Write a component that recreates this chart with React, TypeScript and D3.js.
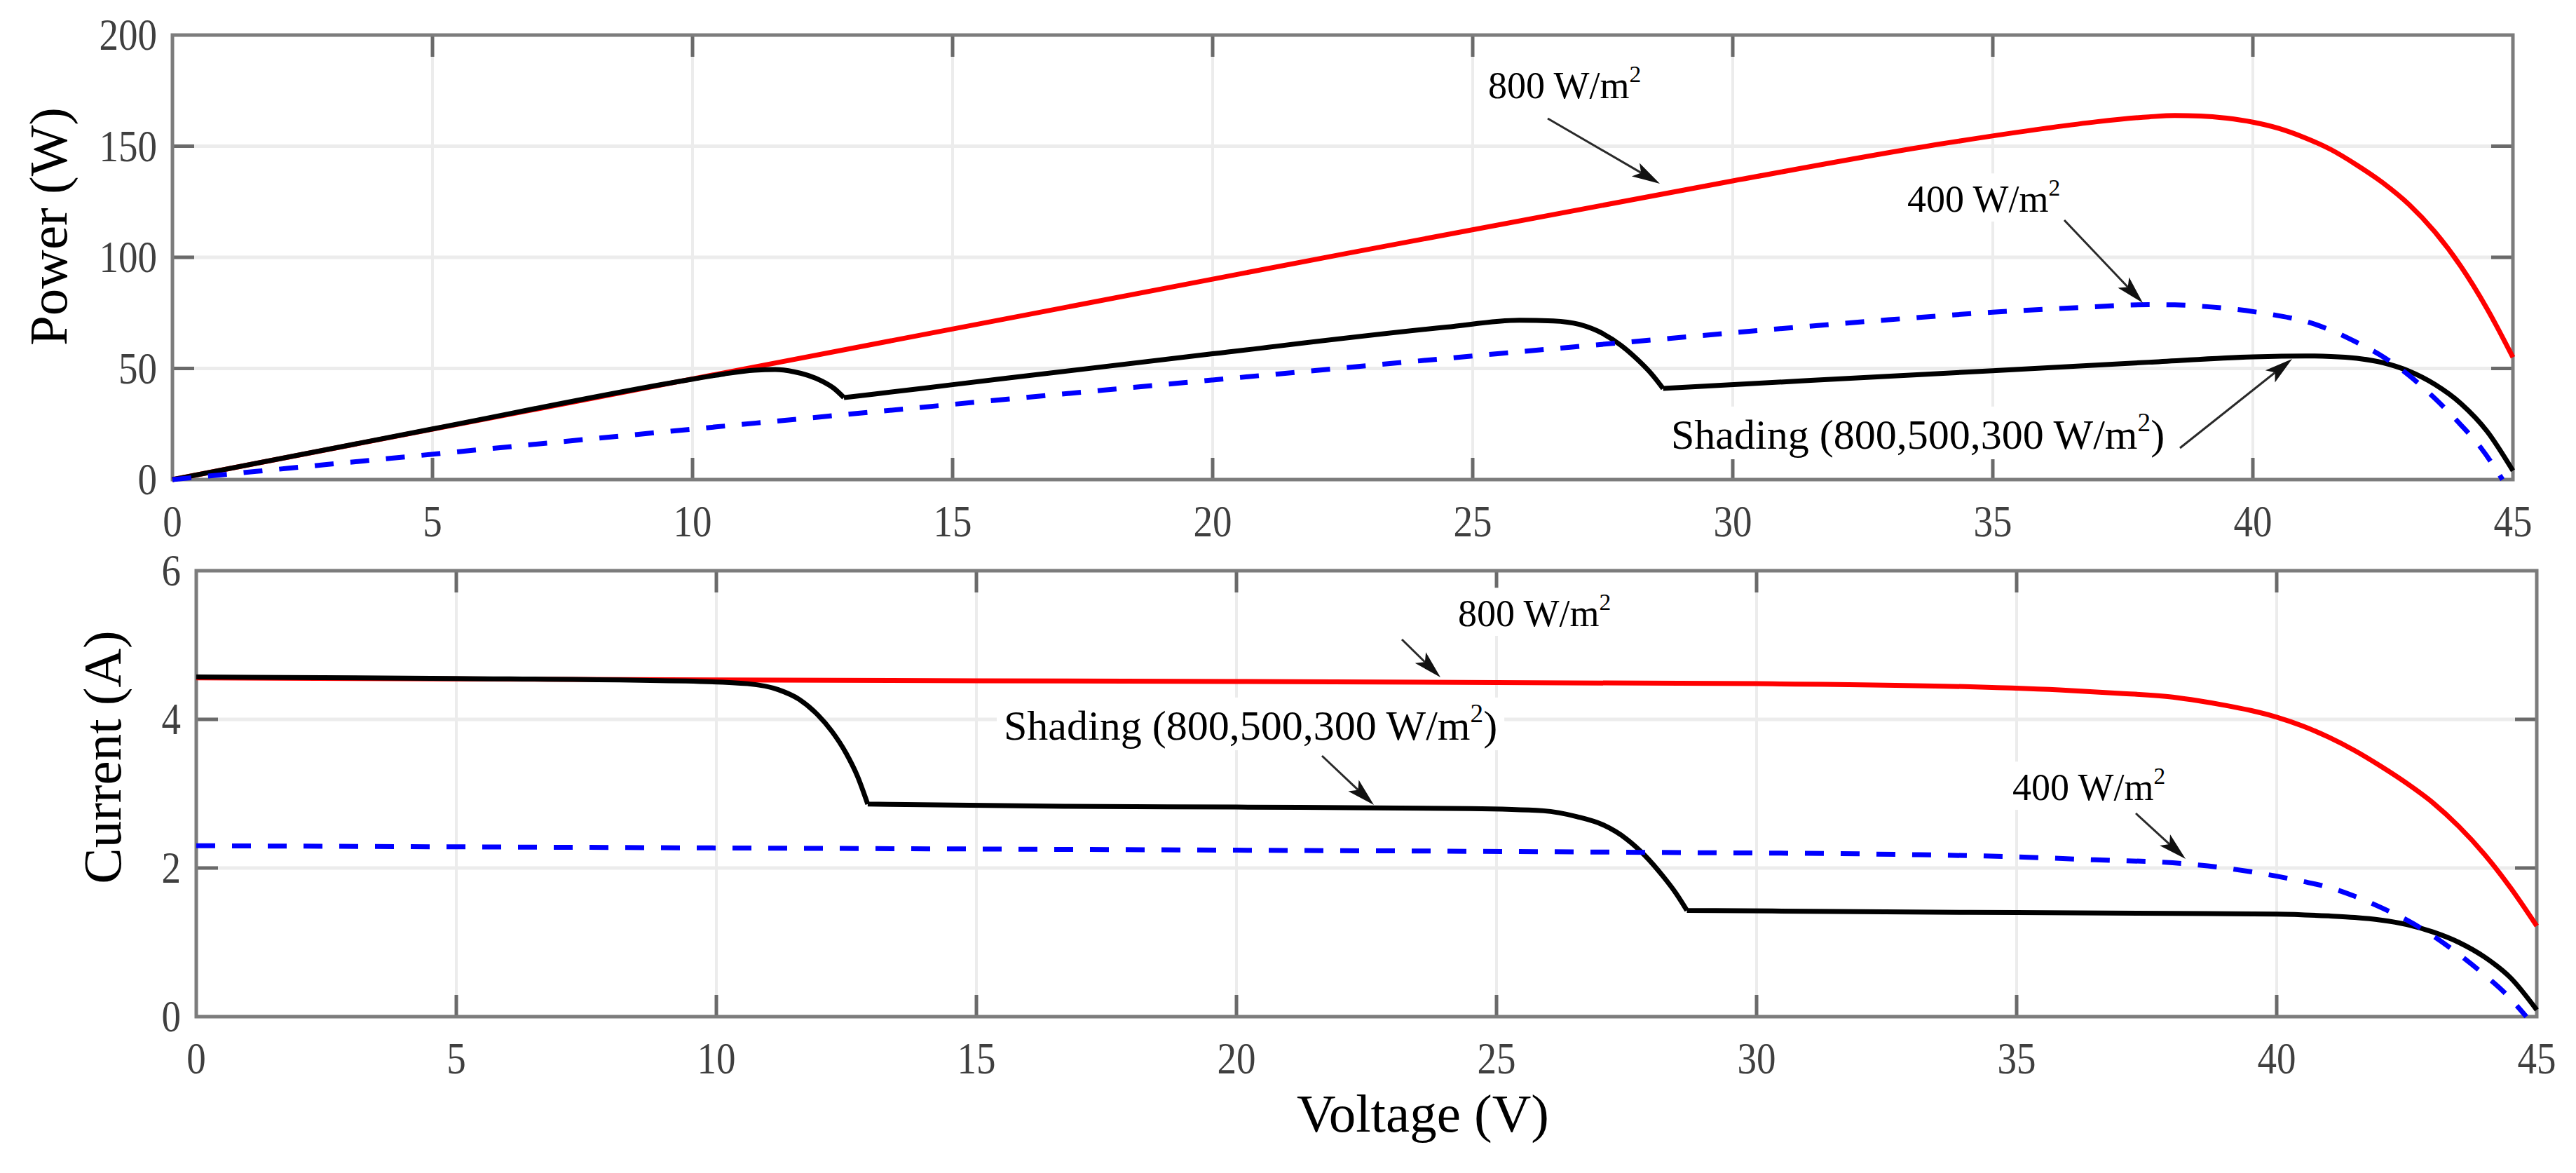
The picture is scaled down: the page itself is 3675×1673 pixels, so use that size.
import React, { useEffect, useRef } from "react";
import * as d3 from "d3";

const WIDTH = 3675;
const HEIGHT = 1673;

// Axis ticks
const voltageTicks = [0, 5, 10, 15, 20, 25, 30, 35, 40, 45];
const powerTicks = [0, 50, 100, 150, 200];
const currentTicks = [0, 2, 4, 6];

// P–V curve, uniform 800 W/m²
const pv800Voltage = [0, 10, 20, 30, 34, 36, 37, 38, 38.5, 39, 39.5, 40, 40.5, 41, 41.5, 42, 42.5, 43, 43.5, 44, 44.5, 45];
const pv800Power = [0, 45.3, 90.2, 134.4, 151, 158, 161, 163.2, 163.8, 163.6, 162.6, 160.8, 158, 153.8, 148.5, 141.5, 133.5, 123.8, 111.4, 95.9, 77, 55];

// P–V curve, uniform 400 W/m²
const pv400Voltage = [0, 10, 20, 28, 33, 35, 36.5, 38, 38.5, 39, 39.5, 40, 40.5, 41, 41.5, 42, 42.5, 43, 43.5, 44, 44.4, 44.8];
const pv400Power = [0, 22.7, 44.8, 61.9, 71.9, 75.3, 77.2, 78.7, 78.6, 78, 77, 75.6, 73.7, 71.3, 67.2, 61.7, 55.3, 46.9, 36.5, 24.6, 13.8, 0];

// P–V curve, partial shading (800, 500, 300 W/m²)
const pvShadeVoltage = [0, 5, 10, 10.6, 11.19, 11.59, 11.95, 12.22, 12.49, 12.71, 12.91, 13.5, 15, 20, 24.5, 25.9, 26.55, 27.05, 27.5, 27.85, 28.2, 28.44, 28.66, 31.5, 35, 38, 40, 41, 41.5, 42, 42.5, 43, 43.5, 44, 44.5, 45];
const pvShadePower = [0, 22.8, 45.2, 47.5, 49.2, 49.5, 48.5, 46.9, 44.3, 41.2, 36.9, 38.5, 42.7, 56.6, 68.6, 71.7, 71.4, 69.8, 65.7, 60.4, 53.3, 47.5, 41.0, 44.6, 49.0, 52.8, 55.2, 55.6, 55.4, 54.6, 52.6, 48.8, 42.8, 34.2, 21.8, 4.0];

// I–V curve, uniform 800 W/m²
const iv800Voltage = [0, 10, 20, 30, 34, 36, 37, 38, 38.5, 39, 39.5, 40, 40.5, 41, 41.5, 42, 42.5, 43, 43.5, 44, 44.5, 45];
const iv800Current = [4.56, 4.53, 4.51, 4.48, 4.44, 4.39, 4.35, 4.3, 4.25, 4.19, 4.12, 4.03, 3.91, 3.76, 3.58, 3.37, 3.14, 2.88, 2.56, 2.18, 1.73, 1.22];

// I–V curve, uniform 400 W/m²
const iv400Voltage = [0, 10, 20, 28, 33, 35, 36.5, 38, 38.5, 39, 39.5, 40, 40.5, 41, 41.5, 42, 42.5, 43, 43.5, 44, 44.4, 44.8];
const iv400Current = [2.3, 2.27, 2.24, 2.21, 2.18, 2.15, 2.11, 2.07, 2.04, 2.0, 1.95, 1.89, 1.82, 1.74, 1.62, 1.47, 1.3, 1.09, 0.84, 0.56, 0.31, 0];

// I–V curve, partial shading (800, 500, 300 W/m²)
const ivShadeVoltage = [0, 5, 9.7, 10.6, 11.19, 11.59, 11.95, 12.22, 12.49, 12.71, 12.91, 16.7, 20, 24.5, 25.9, 26.55, 27.05, 27.5, 27.85, 28.2, 28.44, 28.66, 31.5, 35, 38, 40, 41, 41.5, 42, 42.5, 43, 43.5, 44, 44.5, 45];
const ivShadeCurrent = [4.57, 4.55, 4.51, 4.48, 4.4, 4.27, 4.06, 3.84, 3.55, 3.24, 2.86, 2.83, 2.82, 2.8, 2.77, 2.69, 2.58, 2.39, 2.17, 1.89, 1.67, 1.43, 1.415, 1.4, 1.39, 1.38, 1.355, 1.335, 1.3, 1.24, 1.14, 1.0, 0.8, 0.52, 0.09];

// Bypass-diode switching points where the shaded curve has a corner
const shadeCorners = [12.91, 28.66];

type Pt = [number, number];

const SERIF = "'Liberation Serif', 'Times New Roman', serif";

function zip(vs: number[], ys: number[]): Pt[] {
  return vs.map((v, i) => [v, ys[i]] as Pt);
}

function splitAtCorners(pts: Pt[], corners: number[]): Pt[][] {
  const out: Pt[][] = [];
  let cur: Pt[] = [];
  pts.forEach((p) => {
    cur.push(p);
    if (corners.includes(p[0])) {
      out.push(cur);
      cur = [p];
    }
  });
  if (cur.length > 1) out.push(cur);
  return out;
}

type Series = { pts: Pt[]; color: string; dash?: string; corners?: number[]; width: number };

type LabelPart = { t: string; sup?: boolean };

function drawPanel(
  svg: d3.Selection<SVGSVGElement, unknown, null, undefined>,
  x: d3.ScaleLinear<number, number>,
  y: d3.ScaleLinear<number, number>,
  yTicks: number[],
  series: Series[]
) {
  const g = svg.append("g");
  const [x0, x1] = x.range();
  const [y0, y1] = y.range(); // y0 bottom, y1 top
  const tickLen = 31;

  // grid
  g.selectAll("line.vg")
    .data(voltageTicks.slice(1, -1))
    .join("line")
    .attr("x1", (d) => x(d))
    .attr("x2", (d) => x(d))
    .attr("y1", y1)
    .attr("y2", y0)
    .attr("stroke", "#ececec")
    .attr("stroke-width", 4);
  g.selectAll("line.hg")
    .data(yTicks.slice(1, -1))
    .join("line")
    .attr("x1", x0)
    .attr("x2", x1)
    .attr("y1", (d) => y(d))
    .attr("y2", (d) => y(d))
    .attr("stroke", "#ececec")
    .attr("stroke-width", 5);

  // inward ticks on all four sides
  const tickColor = "#6a6a6a";
  voltageTicks.slice(1, -1).forEach((v) => {
    g.append("line").attr("x1", x(v)).attr("x2", x(v)).attr("y1", y0).attr("y2", y0 - tickLen)
      .attr("stroke", tickColor).attr("stroke-width", 5);
    g.append("line").attr("x1", x(v)).attr("x2", x(v)).attr("y1", y1).attr("y2", y1 + tickLen)
      .attr("stroke", tickColor).attr("stroke-width", 5);
  });
  yTicks.slice(1, -1).forEach((v) => {
    g.append("line").attr("x1", x0).attr("x2", x0 + tickLen).attr("y1", y(v)).attr("y2", y(v))
      .attr("stroke", tickColor).attr("stroke-width", 5);
    g.append("line").attr("x1", x1).attr("x2", x1 - tickLen).attr("y1", y(v)).attr("y2", y(v))
      .attr("stroke", tickColor).attr("stroke-width", 5);
  });

  // frame
  g.append("rect")
    .attr("x", x0)
    .attr("y", y1)
    .attr("width", x1 - x0)
    .attr("height", y0 - y1)
    .attr("fill", "none")
    .attr("stroke", "#7c7c7c")
    .attr("stroke-width", 5);

  // tick labels
  const lbl = g.append("g").attr("font-family", SERIF).attr("font-size", 64).attr("fill", "#3f3f3f");
  voltageTicks.forEach((v) => {
    lbl.append("text")
      .attr("transform", `translate(${x(v)},${y0 + 81}) scale(0.86,1)`)
      .attr("text-anchor", "middle")
      .text(String(v));
  });
  yTicks.forEach((v) => {
    lbl.append("text")
      .attr("transform", `translate(${x0 - 22},${y(v) + 21}) scale(0.86,1)`)
      .attr("text-anchor", "end")
      .text(String(v));
  });

  // curves
  const line = d3
    .line<Pt>()
    .x((d) => x(d[0]))
    .y((d) => y(d[1]))
    .curve(d3.curveMonotoneX);
  series.forEach((s) => {
    const pieces = splitAtCorners(s.pts, s.corners ?? []);
    g.append("path")
      .attr("d", pieces.map((p) => line(p)).join(""))
      .attr("fill", "none")
      .attr("stroke", s.color)
      .attr("stroke-width", s.width)
      .attr("stroke-linejoin", "round")
      .attr("stroke-dasharray", s.dash ?? null);
  });
  return g;
}

function annotate(
  svg: d3.Selection<SVGSVGElement, unknown, null, undefined>,
  tx: number,
  ty: number,
  size: number,
  parts: LabelPart[],
  tail: Pt,
  head: Pt
) {
  const g = svg.append("g");
  const box = g.append("rect").attr("fill", "#ffffff");
  const text = g.append("text")
    .attr("x", tx)
    .attr("y", ty)
    .attr("font-family", SERIF)
    .attr("font-size", size)
    .attr("fill", "#000");
  let raised = false;
  parts.forEach((p) => {
    const sp = text.append("tspan").text(p.t);
    if (p.sup) {
      sp.attr("font-size", size * 0.62).attr("dy", -size * 0.42);
      raised = true;
    } else if (raised) {
      sp.attr("dy", size * 0.42);
      raised = false;
    }
  });
  const bb = (text.node() as SVGTextElement).getBBox();
  box.attr("x", bb.x - 10).attr("y", bb.y - 2).attr("width", bb.width + 20).attr("height", bb.height + 4);

  // arrow
  const [x1, y1] = tail;
  const [x2, y2] = head;
  const ang = Math.atan2(y2 - y1, x2 - x1);
  const ux = Math.cos(ang);
  const uy = Math.sin(ang);
  const px = -uy;
  const py = ux;
  const L = 40;
  const hw = 11;
  const notch = 9;
  const bx = x2 - ux * L;
  const by = y2 - uy * L;
  const nx = x2 - ux * (L - notch);
  const ny = y2 - uy * (L - notch);
  g.append("line")
    .attr("x1", x1)
    .attr("y1", y1)
    .attr("x2", nx)
    .attr("y2", ny)
    .attr("stroke", "#2a2a2a")
    .attr("stroke-width", 3);
  g.append("polygon")
    .attr("points", [
      [x2, y2],
      [bx + px * hw, by + py * hw],
      [nx, ny],
      [bx - px * hw, by - py * hw],
    ].map((q) => q.join(",")).join(" "))
    .attr("fill", "#111");
}

export default function App() {
  const ref = useRef<SVGSVGElement | null>(null);

  useEffect(() => {
    if (!ref.current) return;
    const svg = d3.select(ref.current);
    svg.selectAll("*").remove();
    svg.append("rect").attr("width", WIDTH).attr("height", HEIGHT).attr("fill", "#fff");

    // Power vs voltage
    const xP = d3.scaleLinear().domain([0, 45]).range([246, 3585]);
    const yP = d3.scaleLinear().domain([0, 200]).range([684, 50]);
    drawPanel(svg, xP, yP, powerTicks, [
      { pts: zip(pv800Voltage, pv800Power), color: "#ff0000", width: 7 },
      { pts: zip(pvShadeVoltage, pvShadePower), color: "#000000", width: 7, corners: shadeCorners },
      { pts: zip(pv400Voltage, pv400Power), color: "#0000ff", width: 7, dash: "27 24" },
    ]);

    // Current vs voltage
    const xI = d3.scaleLinear().domain([0, 45]).range([280, 3619]);
    const yI = d3.scaleLinear().domain([0, 6]).range([1450, 814]);
    drawPanel(svg, xI, yI, currentTicks, [
      { pts: zip(iv800Voltage, iv800Current), color: "#ff0000", width: 7 },
      { pts: zip(ivShadeVoltage, ivShadeCurrent), color: "#000000", width: 7, corners: shadeCorners },
      { pts: zip(iv400Voltage, iv400Current), color: "#0000ff", width: 7, dash: "27 24" },
    ]);

    // axis titles
    const titles = svg.append("g").attr("font-family", SERIF).attr("font-size", 77).attr("fill", "#000")
      .attr("text-anchor", "middle");
    titles.append("text").attr("transform", "translate(95,323) rotate(-90)").text("Power (W)");
    titles.append("text").attr("transform", "translate(172,1080) rotate(-90)").text("Current (A)");
    titles.append("text").attr("transform", "translate(2030,1614)").text("Voltage (V)");

    // annotations, power panel
    const wm2 = (lead: string): LabelPart[] => [{ t: `${lead} W/m` }, { t: "2", sup: true }];
    const shading: LabelPart[] = [{ t: "Shading (800,500,300 W/m" }, { t: "2", sup: true }, { t: ")" }];
    annotate(svg, 2123, 140, 54, wm2("800"), [2208, 169], [2368, 262]);
    annotate(svg, 2721, 302, 54, wm2("400"), [2945, 314], [3057, 432]);
    annotate(svg, 2384, 640, 60, shading, [3110, 639], [3270, 512]);

    // annotations, current panel
    annotate(svg, 2080, 893, 54, wm2("800"), [2000, 912], [2055, 966]);
    annotate(svg, 2871, 1141, 54, wm2("400"), [3047, 1160], [3118, 1225]);
    annotate(svg, 1432, 1055, 60, shading, [1886, 1078], [1960, 1148]);
  }, []);

  return (
    <svg
      ref={ref}
      width={WIDTH}
      height={HEIGHT}
      viewBox={`0 0 ${WIDTH} ${HEIGHT}`}
      style={{ position: "absolute", left: 0, top: 0, display: "block" }}
    />
  );
}
